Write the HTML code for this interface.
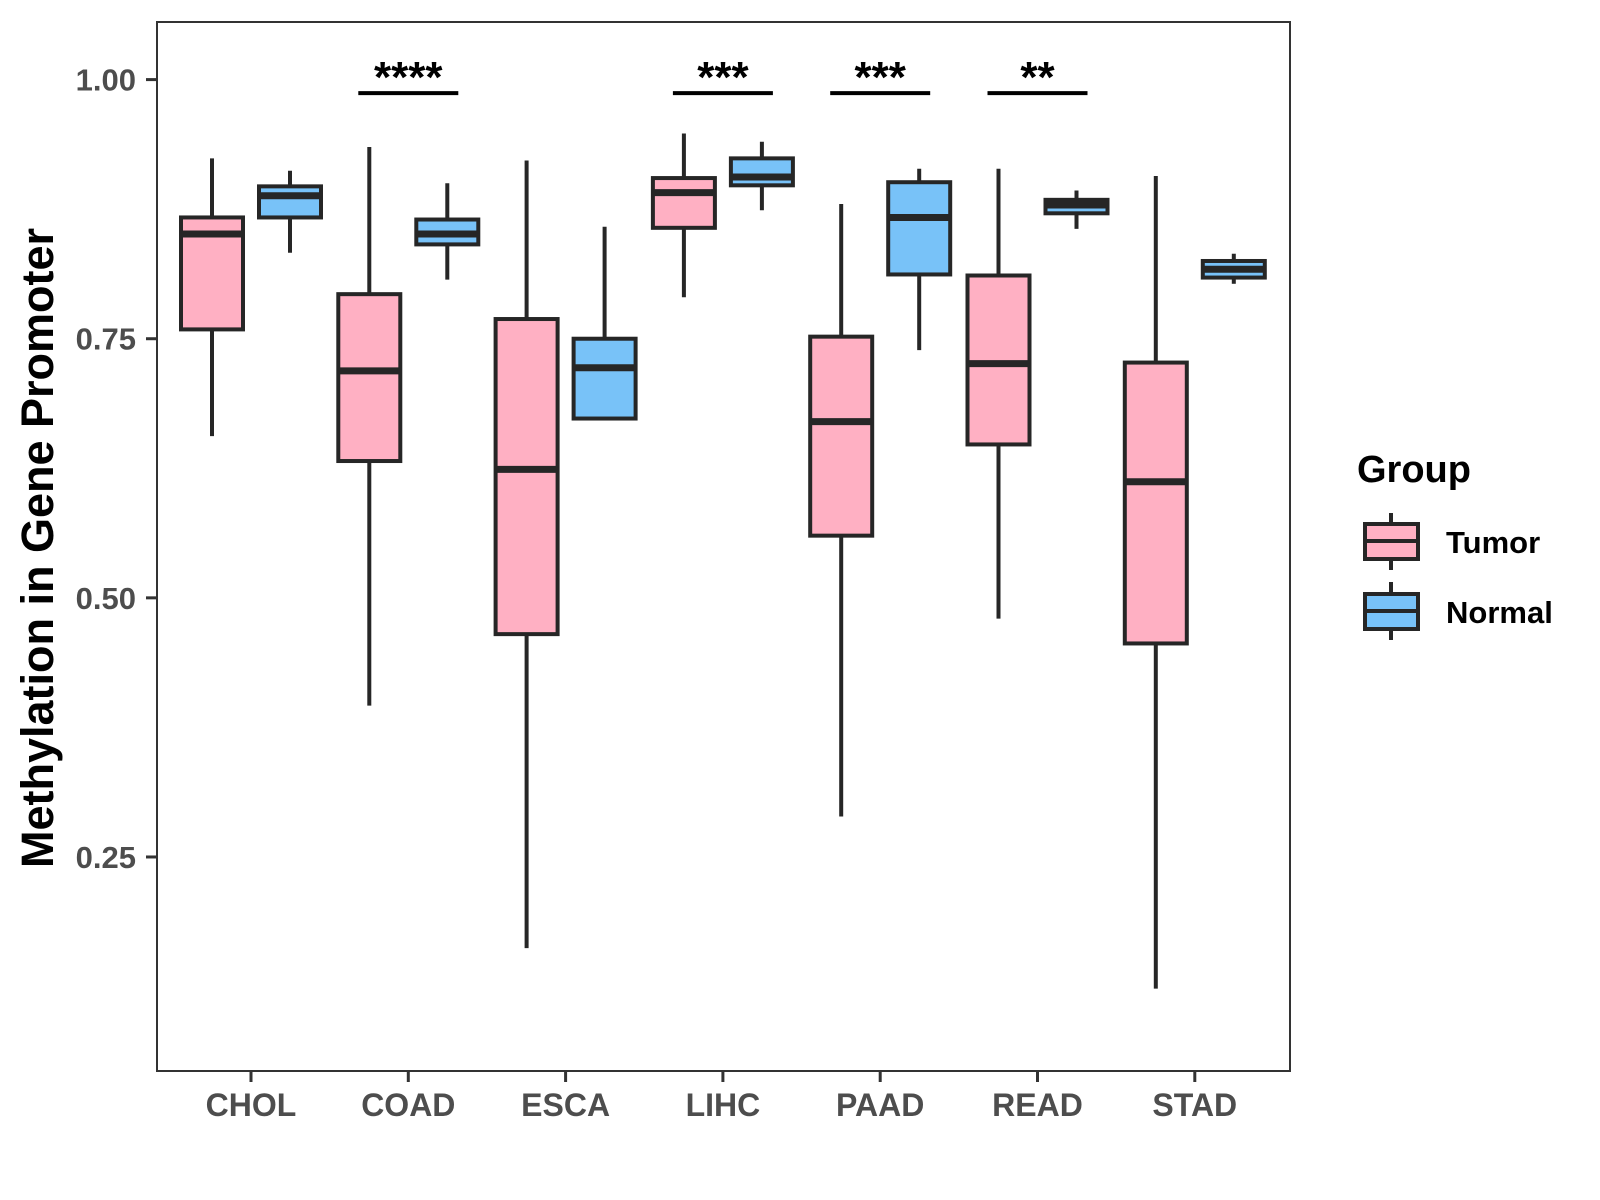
<!DOCTYPE html>
<html><head><meta charset="utf-8"><style>
html,body{margin:0;padding:0;background:#fff;}
svg{display:block;font-family:"Liberation Sans",Arial,sans-serif;}
</style></head><body>
<svg id="chart" width="1600" height="1200" viewBox="0 0 1600 1200" xmlns="http://www.w3.org/2000/svg">
<rect x="0" y="0" width="1600" height="1200" fill="#fff"/>
<g id="marks"></g>
<rect x="157" y="22" width="1133" height="1049" fill="none" stroke="#333" stroke-width="2"/>
<g id="axes"></g>
<text x="0" y="0" transform="translate(53,548) rotate(-90)" text-anchor="middle" font-size="45" font-weight="bold" fill="#000">Methylation in Gene Promoter</text>
<g>
<text x="1357" y="482" font-size="38" font-weight="bold" fill="#000">Group</text>
<g>
<line x1="1391" y1="513" x2="1391" y2="570" stroke="#262626" stroke-width="4"/>
<rect x="1365" y="524" width="53" height="35" fill="#FFB0C3" stroke="#262626" stroke-width="4"/>
<line x1="1365" y1="541" x2="1418" y2="541" stroke="#262626" stroke-width="4"/>
<text x="1446" y="553" font-size="31" font-weight="bold" fill="#000">Tumor</text>
</g>
<g>
<line x1="1391" y1="582" x2="1391" y2="640" stroke="#262626" stroke-width="4"/>
<rect x="1365" y="594" width="53" height="35" fill="#78C2F8" stroke="#262626" stroke-width="4"/>
<line x1="1365" y1="611" x2="1418" y2="611" stroke="#262626" stroke-width="4"/>
<text x="1446" y="623" font-size="31" font-weight="bold" fill="#000">Normal</text>
</g>
</g>
</svg>
<script>
const categories = ["CHOL","COAD","ESCA","LIHC","PAAD","READ","STAD"];
// [low, q1, median, q3, high]
const tumorStats = [
 [0.656,0.759,0.851,0.867,0.924],
 [0.396,0.632,0.719,0.793,0.935],
 [0.162,0.465,0.624,0.769,0.922],
 [0.790,0.857,0.891,0.905,0.948],
 [0.289,0.560,0.670,0.752,0.880],
 [0.480,0.648,0.726,0.811,0.914],
 [0.123,0.456,0.612,0.727,0.907]
];
const normalStats = [
 [0.833,0.867,0.888,0.897,0.912],
 [0.807,0.841,0.851,0.865,0.900],
 [0.673,0.673,0.722,0.750,0.858],
 [0.874,0.898,0.906,0.924,0.940],
 [0.739,0.812,0.867,0.901,0.914],
 [0.856,0.871,0.879,0.884,0.893],
 [0.803,0.809,0.817,0.825,0.832]
];
const yTicks = [0.25,0.50,0.75,1.00];
const yTickLabels = ["0.25","0.50","0.75","1.00"];
const sigCats = ["COAD","LIHC","PAAD","READ"];
const sigLabels = ["****","***","***","**"];
const sigLevel = 0.987;

const NS="http://www.w3.org/2000/svg";
function yScale(v){return 79.6+(1-v)*1036.5;}
function xScale(i){return 251+i*157.3;}
const marks=document.getElementById('marks');
const axes=document.getElementById('axes');
function mk(tag,attrs,parent){const e=document.createElementNS(NS,tag);for(const k in attrs)e.setAttribute(k,attrs[k]);parent.appendChild(e);return e;}

function drawBox(cx,s,fill,name){
  const g=mk('g',{},marks);
  
  
  const w=62;
  mk('line',{x1:cx,x2:cx,y1:yScale(s[4]),y2:yScale(s[0]),stroke:'#262626','stroke-width':4},g);
  mk('rect',{x:cx-w/2,y:yScale(s[3]),width:w,height:Math.max(0,yScale(s[1])-yScale(s[3])),fill:fill,stroke:'#262626','stroke-width':4},g);
  mk('line',{x1:cx-w/2,x2:cx+w/2,y1:yScale(s[2]),y2:yScale(s[2]),stroke:'#262626','stroke-width':7},g);
}
categories.forEach((c,i)=>{
  drawBox(xScale(i)-39,tumorStats[i],'#FFB0C3','box-tumor-'+c.toLowerCase());
  drawBox(xScale(i)+39,normalStats[i],'#78C2F8','box-normal-'+c.toLowerCase());
  const t=mk('line',{x1:xScale(i),x2:xScale(i),y1:1071,y2:1082,stroke:'#333','stroke-width':3},axes);
  
  
  const l=mk('text',{x:xScale(i),y:1116,'text-anchor':'middle','font-size':32,'font-weight':'bold',fill:'#4d4d4d'},axes);
  l.textContent=c;
  
  
});
yTicks.forEach((v,i)=>{
  const t=mk('line',{x1:146,x2:157,y1:yScale(v),y2:yScale(v),stroke:'#333','stroke-width':3},axes);
  
  
  const l=mk('text',{x:136,y:yScale(v)+11,'text-anchor':'end','font-size':31,'font-weight':'bold',fill:'#4d4d4d'},axes);
  l.textContent=yTickLabels[i];
  
  
});
sigCats.forEach((c,k)=>{
  const i=categories.indexOf(c);
  const y=yScale(sigLevel);
  const b=mk('line',{x1:xScale(i)-50,x2:xScale(i)+50,y1:y,y2:y,stroke:'#000','stroke-width':4},marks);
  
  
  const t=mk('text',{x:xScale(i),y:y-1,'text-anchor':'middle','font-size':44,'font-weight':'bold',fill:'#000'},marks);
  t.textContent=sigLabels[k];
  
  
});
</script>
</body></html>
